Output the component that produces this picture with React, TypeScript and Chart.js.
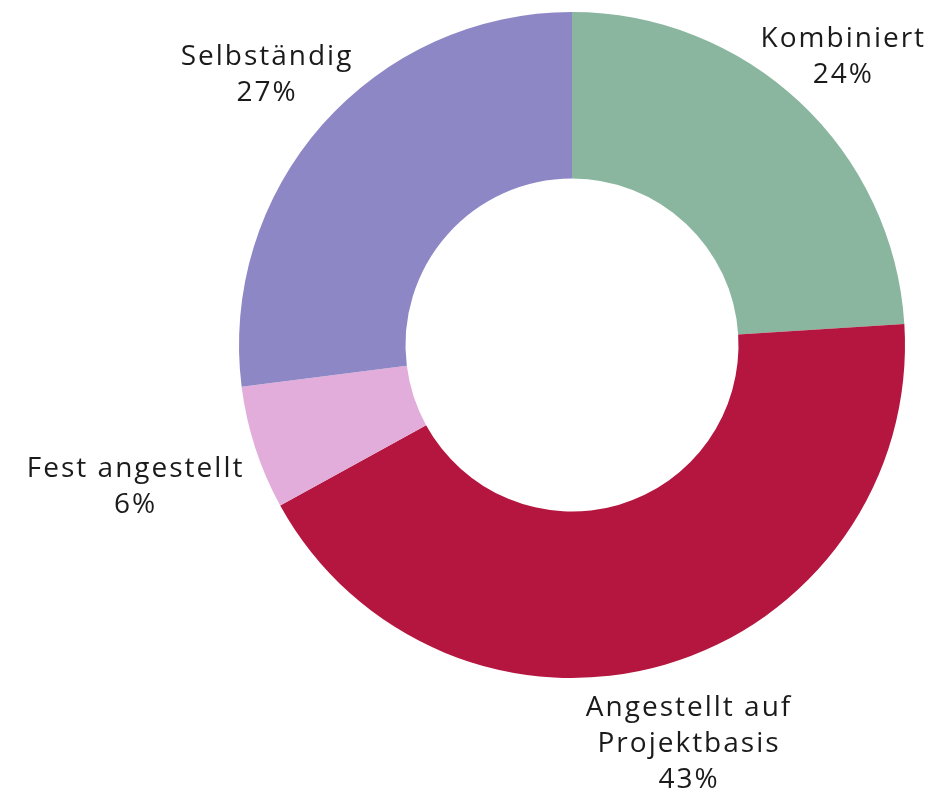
import React, { useEffect, useRef } from "react";
import { Chart, registerables } from "chart.js";

Chart.register(...registerables);

const categories = ["Kombiniert", "Angestellt auf Projektbasis", "Fest angestellt", "Selbständig"];
const labelLines = [["Kombiniert"], ["Angestellt auf", "Projektbasis"], ["Fest angestellt"], ["Selbständig"]];
const values = [24, 43, 6, 27];
const colors = ["#8AB6A0", "#B5163F", "#E2ADDA", "#8D87C6"];
// distance of label centre from chart centre, as a multiple of outer radius
const labelDistance = [1.186, 1.249, 1.381, 1.225];

const FONT_FAMILY = "'Open Sans', 'Noto Sans', sans-serif";
const FONT_SIZE = 28;
const LINE_HEIGHT = 36;

const outsideLabels = {
  id: "outsideLabels",
  afterDatasetsDraw(chart: any) {
    const ctx = chart.ctx;
    const meta = chart.getDatasetMeta(0);
    ctx.save();
    ctx.font = `400 ${FONT_SIZE}px ${FONT_FAMILY}`;
    (ctx as any).letterSpacing = "2px";
    ctx.fillStyle = "#1b1b1b";
    ctx.textAlign = "center";
    ctx.textBaseline = "middle";
    meta.data.forEach((arc: any, i: number) => {
      const { x, y, startAngle, endAngle, outerRadius } = arc.getProps(
        ["x", "y", "startAngle", "endAngle", "outerRadius"],
        true
      );
      const mid = (startAngle + endAngle) / 2;
      const r = outerRadius * labelDistance[i];
      const cx = x + Math.cos(mid) * r;
      const cy = y + Math.sin(mid) * r;
      const lines = [...labelLines[i], `${values[i]}%`];
      const total = (lines.length - 1) * LINE_HEIGHT;
      lines.forEach((line, j) => {
        ctx.fillText(line, cx + 1, cy - total / 2 + j * LINE_HEIGHT);
      });
    });
    ctx.restore();
  },
};

export default function App() {
  const ref = useRef<HTMLCanvasElement>(null);
  useEffect(() => {
    if (!ref.current) return;
    const chart = new Chart(ref.current, {
      type: "doughnut",
      data: {
        labels: categories,
        datasets: [
          {
            data: values,
            backgroundColor: colors,
            borderWidth: 0,
          },
        ],
      },
      options: {
        responsive: false,
        animation: false,
        cutout: "50%",
        layout: { padding: { left: 239, right: 29, top: 12, bottom: 119 } },
        plugins: {
          legend: { display: false },
          tooltip: { enabled: false },
        },
      },
      plugins: [outsideLabels],
    });
    return () => chart.destroy();
  }, []);
  return (
    <div style={{ position: "absolute", left: 0, top: 0, width: 934, height: 797, background: "#fff" }}>
      <canvas ref={ref} width={934} height={797} style={{ width: 934, height: 797 }} />
    </div>
  );
}
